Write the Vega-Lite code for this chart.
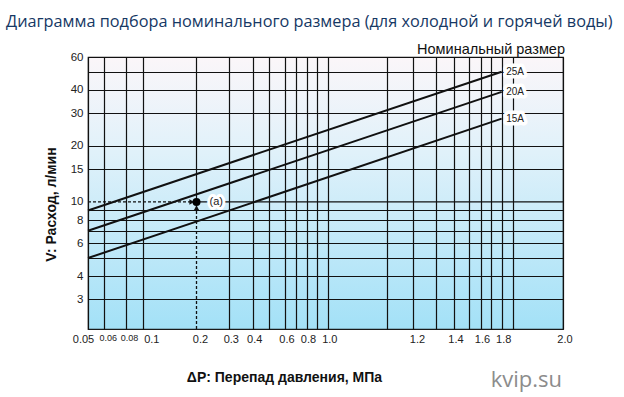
{
  "$schema": "https://vega.github.io/schema/vega-lite/v6.json",
  "width": 475,
  "height": 272,
  "autosize": {"type": "none"},
  "padding": {"left": 88, "top": 57, "right": 61, "bottom": 68},
  "background": "white",
  "config": {
    "font": "Liberation Sans",
    "view": {
      "stroke": "#1a1a1a",
      "strokeWidth": 1.2,
      "fill": {"gradient": "linear", "x1": 0, "y1": 0, "x2": 0, "y2": 1,
        "stops": [{"offset": 0, "color": "#fbf6f9"}, {"offset": 0.35, "color": "#e0f1fa"}, {"offset": 1, "color": "#a3e1f7"}]}
    }
  },
  "title": {
    "text": "Диаграмма подбора номинального размера (для холодной и горячей воды)",
    "anchor": "start",
    "frame": "group",
    "font": "Open Sans",
    "fontSize": 16.3,
    "fontWeight": "normal",
    "color": "#163864",
    "dx": -82,
    "dy": -2,
    "offset": 10
  },
  "datasets": {
    "lines": [
      {"size": "25A", "dp": 0.05, "q": 9},
      {"size": "25A", "dp": 1.8, "q": 50},
      {"size": "20A", "dp": 0.05, "q": 7},
      {"size": "20A", "dp": 1.8, "q": 39},
      {"size": "15A", "dp": 0.05, "q": 5},
      {"size": "15A", "dp": 1.8, "q": 28}
    ],
    "solid": [
      {"dp": 0.2, "q": 10, "dp2": 0.2, "q2": 60},
      {"dp": 0.2, "q": 10, "dp2": 2.0, "q2": 10}
    ],
    "dashed": [
      {"dp": 0.05, "q": 10, "dp2": 0.2, "q2": 10},
      {"dp": 0.2, "q": 2.08, "dp2": 0.2, "q2": 10}
    ],
    "arrows": [
      {"dp": 0.188, "q": 10, "dir": "right"},
      {"dp": 0.2, "q": 9.3, "dir": "up"}
    ],
    "point": [{"dp": 0.2, "q": 10, "label": "(a)"}],
    "note": [{"dp": 2.0, "q": 60, "txt": "Номинальный размер"}],
    "mark": [{"dp": 2.0, "q": 2.08, "txt": "kvip.su"}]
  },
  "encoding": {
    "x": {
      "field": "dp",
      "type": "quantitative",
      "scale": {
        "type": "log",
        "nice": false,
        "zero": false,
        "domain": [0.05, 0.06, 0.08, 0.1, 0.2, 0.3, 0.4, 0.5, 0.6, 0.7, 0.8, 0.9, 1.0, 1.1, 1.2, 1.3, 1.4, 1.5, 1.6, 1.7, 1.8, 1.9, 2.0],
        "range": [0, 16.3, 37.5, 55.3, 108.5, 141.3, 164.7, 181.3, 197, 208, 218.5, 229, 239.8, 298.7, 324.5, 348, 366, 381.3, 392.5, 403.2, 413.7, 424.7, 475]
      },
      "axis": {
        "values": [0.05, 0.06, 0.08, 0.1, 0.2, 0.3, 0.4, 0.5, 0.6, 0.7, 0.8, 0.9, 1.0, 1.1, 1.2, 1.3, 1.4, 1.5, 1.6, 1.7, 1.8, 1.9, 2.0],
        "labelExpr": "indexof([0.05,0.06,0.08,0.1,0.2,0.3,0.4,0.6,0.8,1,1.2,1.4,1.6,1.8,2], datum.value) < 0 ? '' : (datum.value >= 1 ? format(datum.value, '.1f') : format(datum.value, '~g'))",
        "grid": true,
        "gridColor": "#111",
        "gridWidth": 1.2,
        "gridOpacity": {"condition": {"test": "datum.value == 0.2", "value": 0}, "value": 1},
        "ticks": false,
        "domain": false,
        "labelFont": "Liberation Sans",
        "labelFontSize": {"condition": {"test": "datum.value == 0.06 || datum.value == 0.08", "value": 9}, "value": 11},
        "labelOffset": {"condition": [
          {"test": "datum.value == 0.05", "value": -5},
          {"test": "datum.value == 0.1", "value": 8},
          {"test": "datum.value == 1.2", "value": 4.5},
          {"test": "datum.value == 0.06 || datum.value == 0.08 || datum.value == 0.2", "value": 3.5}
        ], "value": 1.5},
        "labelColor": "#222",
        "labelPadding": 4,
        "labelFlush": false,
        "labelOverlap": false,
        "labelBound": false,
        "title": "ΔP: Перепад давления, МПа",
        "titleFont": "Liberation Sans",
        "titleFontWeight": "bold",
        "titleFontSize": 14,
        "titleColor": "#111",
        "titleX": 196,
        "titleY": 48,
        "titleAlign": "center",
        "titleBaseline": "middle"
      }
    },
    "y": {
      "field": "q",
      "type": "quantitative",
      "scale": {"type": "log", "nice": false, "zero": false, "domain": [2.08, 60]},
      "axis": {
        "values": [3, 4, 5, 6, 7, 8, 9, 10, 15, 20, 30, 40, 50, 60],
        "labelExpr": "indexof([3,4,6,8,10,15,20,30,40,60], datum.value) < 0 ? '' : format(datum.value, '~g')",
        "grid": true,
        "gridColor": "#111",
        "gridWidth": 1.2,
        "gridOpacity": {"condition": {"test": "datum.value == 10", "value": 0}, "value": 1},
        "ticks": false,
        "domain": false,
        "labelFont": "Liberation Sans",
        "labelFontSize": 11.5,
        "labelColor": "#222",
        "labelPadding": 5,
        "labelFlush": false,
        "labelOverlap": false,
        "labelBound": false,
        "title": "V: Расход, л/мин",
        "titleFont": "Liberation Sans",
        "titleFontWeight": "bold",
        "titleFontSize": 14,
        "titleColor": "#111",
        "titleAngle": 270,
        "titleX": -37,
        "titleY": 147,
        "titleAlign": "center",
        "titleBaseline": "middle"
      }
    }
  },
  "layer": [
    {
      "data": {"name": "solid"},
      "mark": {"type": "rule", "color": "#111", "strokeWidth": 1.2},
      "encoding": {"x2": {"field": "dp2"}, "y2": {"field": "q2"}}
    },
    {
      "data": {"name": "dashed"},
      "mark": {"type": "rule", "color": "#111", "strokeWidth": 1.3, "strokeDash": [3, 2]},
      "encoding": {"x2": {"field": "dp2"}, "y2": {"field": "q2"}}
    },
    {
      "data": {"name": "lines"},
      "mark": {"type": "line", "color": "#111", "strokeWidth": 2},
      "encoding": {"detail": {"field": "size", "type": "nominal"}}
    },
    {
      "data": {"name": "arrows"},
      "mark": {"type": "point", "filled": true, "color": "#111", "size": 30, "opacity": 1},
      "encoding": {
        "shape": {"field": "dir", "type": "nominal", "scale": {"domain": ["right", "up"], "range": ["triangle-right", "triangle-up"]}, "legend": null}
      }
    },
    {
      "data": {"name": "point"},
      "mark": {"type": "point", "filled": true, "color": "#000", "size": 64, "opacity": 1}
    },
    {
      "data": {"name": "point"},
      "mark": {"type": "text", "align": "left", "baseline": "middle", "dx": 13, "fontSize": 11, "fill": "white", "stroke": "white", "strokeWidth": 6, "strokeJoin": "round"},
      "encoding": {"text": {"field": "label"}}
    },
    {
      "data": {"name": "point"},
      "mark": {"type": "text", "align": "left", "baseline": "middle", "dx": 13, "fontSize": 11, "color": "#222"},
      "encoding": {"text": {"field": "label"}}
    },
    {
      "data": {"name": "lines"},
      "transform": [{"filter": "datum.dp == 1.8"}],
      "mark": {"type": "text", "align": "left", "baseline": "middle", "dx": 4.5, "fontSize": 10, "fill": "white", "stroke": "white", "strokeWidth": 7, "strokeJoin": "round"},
      "encoding": {"text": {"field": "size"}}
    },
    {
      "data": {"name": "lines"},
      "transform": [{"filter": "datum.dp == 1.8"}],
      "mark": {"type": "text", "align": "left", "baseline": "middle", "dx": 4.5, "fontSize": 10, "color": "#222"},
      "encoding": {"text": {"field": "size"}}
    },
    {
      "data": {"name": "note"},
      "mark": {"type": "text", "align": "right", "baseline": "alphabetic", "dx": 2, "dy": -3, "fontSize": 14.5, "color": "#111"},
      "encoding": {"text": {"field": "txt"}}
    },
    {
      "data": {"name": "mark"},
      "mark": {"type": "text", "align": "right", "baseline": "alphabetic", "dx": -1, "dy": 58, "font": "Open Sans", "fontSize": 22, "color": "#8c8c8c"},
      "encoding": {"text": {"field": "txt"}}
    }
  ]
}
